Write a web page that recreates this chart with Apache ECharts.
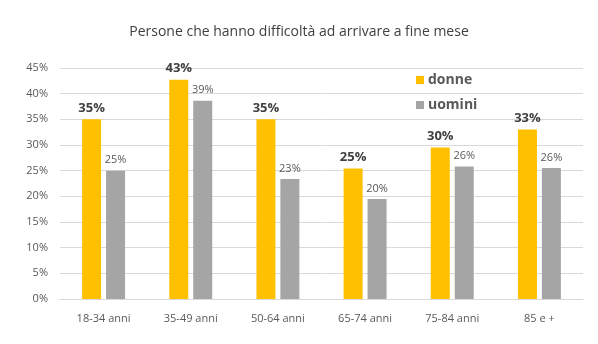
<!DOCTYPE html>
<html><head><meta charset="utf-8">
<script src="https://cdn.jsdelivr.net/npm/echarts@6/dist/echarts.min.js"></script>
<style>html,body{margin:0;padding:0;background:#fff}#c{width:598px;height:344px}</style>
</head><body><div id="c"></div>
<script>
const categories = ['18-34 anni','35-49 anni','50-64 anni','65-74 anni','75-84 anni','85 e +'];
const donne = [35.0, 42.7, 35.0, 25.4, 29.5, 33.0];
const uomini = [25.0, 38.6, 23.4, 19.5, 25.8, 25.5];
const yTicks = [0,5,10,15,20,25,30,35,40,45];

const FONT = 'Open Sans';
const chart = echarts.init(document.getElementById('c'), null, {renderer:'canvas'});
chart.setOption({
  animation:false,
  title:{text:'Persone che hanno difficoltà ad arrivare a fine mese', left:'center', top:20,
    textStyle:{fontFamily:FONT, fontSize:14, fontWeight:'normal', color:'#404040'}},
  legend:{orient:'vertical', left:411, top:68, itemWidth:8, itemHeight:8, itemGap:11,
    icon:'rect', textStyle:{fontFamily:FONT, fontSize:14, fontWeight:'bold', color:'#595959', padding:[0,0,0,-1]},
    data:['donne','uomini']},
  grid:{left:60, right:15, top:68, bottom:45, containLabel:false},
  xAxis:{type:'category', data:categories,
    axisLine:{lineStyle:{color:'#d9d9d9'}}, axisTick:{show:false},
    axisLabel:{fontFamily:FONT, fontSize:11, color:'#595959', margin:14}},
  yAxis:{type:'value', min:0, max:45, interval:5,
    axisLine:{show:false}, axisTick:{show:false},
    splitLine:{lineStyle:{color:'#d9d9d9'}},
    axisLabel:{fontFamily:FONT, fontSize:11, color:'#595959', margin:12, formatter:v=>v+'%'}},
  series:[
    {name:'donne', type:'bar', data:donne, barWidth:19, barGap:'26%',
     itemStyle:{color:'#FFC000'},
     label:{show:true, position:'top', distance:5, fontFamily:FONT, fontSize:13, fontWeight:'bold', color:'#404040',
       formatter:p=>Math.round(p.value)+'%'}},
    {name:'uomini', type:'bar', data:uomini, barWidth:19,
     itemStyle:{color:'#A5A5A5'},
     label:{show:true, position:'top', distance:5, fontFamily:FONT, fontSize:11, color:'#595959',
       formatter:p=>Math.round(p.value)+'%'}}
  ]
});
</script></body></html>
